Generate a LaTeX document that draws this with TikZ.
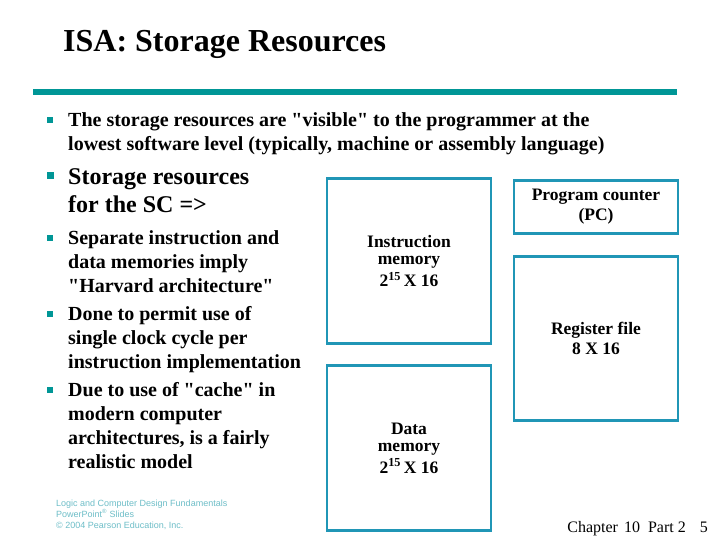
\documentclass[tikz,border=0pt]{standalone}
\usepackage{fontspec}
\setmainfont{Liberation Serif}
\setsansfont{Liberation Sans}
\definecolor{barteal}{RGB}{0,150,150}
\definecolor{boxblue}{RGB}{32,150,182}
\definecolor{logoteal}{RGB}{110,190,200}

\newcommand*{\pagew}{720}
\newcommand*{\pageh}{540}
\newcommand*{\qq}{\textquotedbl}

\begin{document}
\begin{tikzpicture}
[
	x=1pt,y=-1pt,
	bulletmark/.style={fill=barteal,inner sep=0pt,minimum size=5.5pt},
	textline/.style={anchor=base west,inner sep=0pt,font=\bfseries\fontsize{20}{24}\selectfont},
	bigline/.style={anchor=base west,inner sep=0pt,font=\bfseries\fontsize{24}{28}\selectfont},
	storebox/.style={draw=boxblue,line width=2.6pt,align=center,inner sep=0pt,
		font=\bfseries\fontsize{17.5}{17}\selectfont}
]

	\useasboundingbox[fill=white] (0,0) rectangle (\pagew,\pageh);

	% title and bar
	\node[anchor=base west,inner sep=0pt,font=\bfseries\fontsize{32}{34}\selectfont] (title) at (63,52) {ISA: Storage Resources};
	\fill[barteal] (33,89) rectangle (677,95);

	% bullet markers
	\foreach \y/\n in {120/ma,238/mc,314/md,390/me} {
		\node[bulletmark] (\n) at (50,\y) {};
	}
	\node[bulletmark,minimum size=7pt] (mb) at (50,176) {};

	% first bullet
	\node[textline] (ta) at (68,127) {The storage resources are \qq visible\qq{} to the programmer at the};
	\node[textline] (tb) at (68,151) {lowest software level (typically, machine or assembly language)};

	% second bullet
	\node[bigline] (sa) at (68,185) {Storage resources};
	\node[bigline] (sb) at (68,213) {for the SC =>};

	% sub bullets
	\foreach \y/\t [count=\i] in {
		244/{Separate instruction and},
		268/{data memories imply},
		292/{\qq Harvard architecture\qq},
		320/{Done to permit use of},
		344/{single clock cycle per},
		368/{instruction implementation},
		396/{Due to use of \qq cache\qq{} in},
		420/{modern computer},
		444/{architectures, is a fairly},
		468/{realistic model}} {
		\node[textline] (l\i) at (68,\y) {\t};
	}

	% storage boxes
	\node[storebox,minimum width=164pt,minimum height=165pt] (imem) at (409,261)
		{Instruction\\memory\\[3pt]2\textsuperscript{15}\,X 16};
	\node[storebox,minimum width=164pt,minimum height=165pt] (dmem) at (409,448)
		{Data\\memory\\[3pt]2\textsuperscript{15}\,X 16};
	\node[storebox,minimum width=164pt,minimum height=53pt] (pc) at (596,207)
		{Program counter\\[3pt](PC)};
	\node[storebox,minimum width=164pt,minimum height=164pt] (regs) at (596,338.5)
		{Register file\\[3pt]8 X 16};

	% footer
	\node[anchor=north west,inner sep=0pt,align=left,text=logoteal,
		font=\sffamily\fontsize{9}{11}\selectfont] (logo) at (56,500)
		{Logic and Computer Design Fundamentals\\PowerPoint\textsuperscript{\textregistered} Slides\\\textcopyright{} 2004 Pearson Education, Inc.};
	\node[anchor=base east,inner sep=0pt,font=\fontsize{16}{18}\selectfont] (page) at (708,532)
		{Chapter\hspace{6pt}10\hspace{8pt}Part 2\hspace{14pt}5};

\end{tikzpicture}
\end{document}
